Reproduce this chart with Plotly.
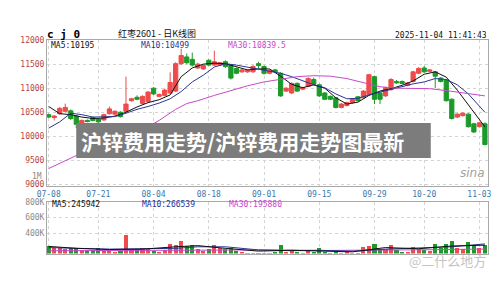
import plotly.graph_objects as go

W, H = 500, 281
def px(x): return x / W
def py(y): return 1 - y / H

# ---------------- data ----------------
day_idx = list(range(80))
tick_idx = [0, 9, 19, 29, 39, 49, 59, 68, 78]
tick_dates = ["07-08", "07-21", "08-04", "08-18", "09-01", "09-15", "09-29", "10-20", "11-03"]
price_ticks = [9000, 9500, 10000, 10500, 11000, 11500, 12000]
price_tick_text = ["9000", "9500", "10000", "10500", "11000", "11500", "12000"]
vol_ticks = [400000, 600000, 800000]
vol_tick_text = ["400K", "600K", "800K"]

opens = [10450, 10390, 10470, 10520, 10530, 10420, 10260, 10330, 10390, 10360,
         10340, 10470, 10460, 10500, 10520, 10740, 10810, 10680, 10720, 11000,
         10830, 10850, 10900, 10940, 11510, 11650, 11600, 11420, 11400, 11580,
         11480, 11480, 11550, 11480, 11410, 11340, 11340, 11340, 11510, 11450,
         11310, 11380, 11310, 10940, 10900, 11100, 10980, 11040, 11180, 11070,
         10900, 10830, 10800, 10600, 10640, 10700, 10820, 10800, 10870, 11240,
         10900, 10840, 10970, 11140, 11140, 11060, 11140, 11310, 11420, 11350,
         11340, 11210, 11170, 10770, 10400, 10430, 10460, 10260, 10200, 10260]
highs = [10470, 10440, 10610, 10680, 10560, 10440, 10350, 10350, 10410, 10380,
         10470, 10620, 10540, 10520, 11240, 10800, 10850, 10850, 10940, 11020,
         10890, 10990, 11330, 11540, 11820, 11720, 11740, 11530, 11490, 11600,
         11780, 11540, 11580, 11500, 11430, 11400, 11390, 11480, 11550, 11470,
         11390, 11400, 11330, 11020, 11120, 11120, 11030, 11230, 11220, 11090,
         10920, 10850, 10820, 10690, 10720, 10790, 10840, 10960, 11300, 11260,
         10920, 11030, 11210, 11170, 11160, 11130, 11360, 11440, 11460, 11400,
         11360, 11230, 11190, 10790, 10480, 10500, 10480, 10280, 10300, 10290]
lows = [10380, 10330, 10450, 10500, 10340, 10170, 10240, 10290, 10310, 10280,
        10320, 10450, 10440, 10390, 10500, 10720, 10750, 10660, 10700, 10860,
        10810, 10830, 10880, 10920, 11480, 11500, 11450, 11400, 11380, 11460,
        11460, 11460, 11420, 11180, 11290, 11320, 11320, 11320, 11410, 11280,
        11290, 11320, 10820, 10920, 10880, 10920, 10960, 11020, 11060, 10820,
        10750, 10750, 10580, 10580, 10620, 10680, 10720, 10780, 10850, 10670,
        10670, 10820, 10950, 11090, 11080, 11040, 11120, 11290, 11320, 11330,
        11000, 11120, 10720, 10350, 10380, 10410, 10180, 10070, 10180, 9810]
closes = [10400, 10420, 10580, 10600, 10370, 10250, 10330, 10310, 10330, 10300,
          10450, 10570, 10520, 10410, 10670, 10780, 10770, 10830, 10920, 10880,
          10870, 10960, 11120, 11510, 11680, 11530, 11480, 11500, 11470, 11480,
          11550, 11530, 11450, 11210, 11310, 11380, 11370, 11450, 11470, 11310,
          11370, 11340, 10840, 11000, 11100, 10940, 11010, 11200, 11080, 10840,
          10770, 10770, 10600, 10670, 10700, 10770, 10740, 10940, 11280, 10770,
          10770, 11010, 11180, 11110, 11100, 11110, 11340, 11410, 11340, 11380,
          11250, 11140, 10740, 10370, 10460, 10480, 10200, 10090, 10280, 9830]
volumes = [234, 204, 204, 193, 204, 204, 179, 171, 179, 212,
           179, 171, 162, 171, 379, 192, 192, 204, 200, 171,
           162, 179, 263, 254, 296, 233, 246, 192, 171, 192,
           254, 204, 192, 204, 171, 162, 150, 150, 150, 150,
           150, 162, 246, 162, 171, 162, 150, 179, 162, 212,
           162, 150, 162, 150, 162, 150, 150, 221, 233, 263,
           192, 192, 254, 179, 162, 162, 221, 200, 179, 171,
           267, 212, 267, 296, 212, 192, 283, 246, 204, 254]
volumes = [v * 1000 for v in volumes]

ma_idx = [0, 2, 4, 6, 8, 10, 12, 14, 16, 18, 20, 22, 24, 26, 28, 30, 32, 34, 36, 38,
          40, 42, 44, 46, 48, 50, 52, 54, 56, 58, 60, 62, 64, 66, 68, 70, 72, 74, 76, 78, 79]
ma5 = [10620, 10470, 10450, 10400, 10370, 10380, 10420, 10500, 10610, 10700,
       10760, 10860, 11240, 11420, 11500, 11520, 11510, 11450, 11380, 11400,
       11400, 11250, 11080, 11010, 11070, 11000, 10800, 10670, 10710, 10850,
       10940, 10990, 11060, 11150, 11290, 11340, 11230, 10960, 10650, 10330, 10195]
ma10 = [10170, 10300, 10480, 10450, 10400, 10400, 10410, 10480, 10560, 10620,
        10690, 10780, 10930, 11130, 11270, 11440, 11510, 11480, 11440, 11400,
        11360, 11310, 11240, 11160, 11070, 11010, 10880, 10780, 10790, 10860,
        10920, 10970, 11030, 11090, 11130, 11200, 11180, 11070, 10880, 10640, 10499]
ma30_idx = [0, 5, 10, 14, 17, 20, 23, 25, 27, 30, 33, 36, 39, 42, 45, 48, 51, 54,
            57, 60, 63, 66, 69, 72, 75, 79]
ma30 = [9330, 9600, 9870, 10040, 10130, 10330, 10560, 10680, 10740, 10850, 10950,
        11050, 11130, 11190, 11240, 11260, 11250, 11200, 11110, 11030, 11000, 10995,
        10990, 10950, 10900, 10840]

vma_idx = [0, 5, 11, 17, 23, 27, 32, 38, 44, 49, 55, 61, 67, 73, 79]
vma5 = [230, 205, 190, 195, 225, 240, 205, 170, 180, 172, 160, 215, 200, 235, 246]
vma10 = [215, 210, 195, 200, 205, 225, 225, 185, 175, 180, 168, 195, 210, 225, 262]
vma30_idx = [0, 10, 20, 30, 40, 50, 60, 70, 79]
vma30 = [175, 178, 185, 190, 185, 178, 180, 188, 196]
vma5 = [v * 1000 for v in vma5]
vma10 = [v * 1000 for v in vma10]
vma30 = [v * 1000 for v in vma30]

# ---------------- style ----------------
RED = "#ef4b4b"
GREEN = "#1b9a2a"
BLACK = "#111111"
BLUE = "#2a3590"
MAG = "#c848c8"
MONO = "DejaVu Sans Mono"
CJK = "Noto Sans CJK SC"

fig = go.Figure()
fig.add_trace(go.Candlestick(
    x=day_idx, open=opens, high=highs, low=lows, close=closes,
    increasing=dict(line=dict(color=RED, width=1), fillcolor=RED),
    decreasing=dict(line=dict(color=GREEN, width=1), fillcolor=GREEN),
    whiskerwidth=0, xaxis="x", yaxis="y", hoverinfo="skip"))
fig.add_trace(go.Scatter(x=ma_idx, y=ma5, mode="lines", line=dict(color=BLACK, width=1),
                         xaxis="x", yaxis="y"))
fig.add_trace(go.Scatter(x=ma_idx, y=ma10, mode="lines", line=dict(color=BLUE, width=1),
                         xaxis="x", yaxis="y"))
fig.add_trace(go.Scatter(x=ma30_idx, y=ma30, mode="lines", line=dict(color=MAG, width=1),
                         xaxis="x", yaxis="y"))

vol_colors = [RED if c >= o else GREEN for o, c in zip(opens, closes)]
fig.add_trace(go.Bar(x=day_idx, y=volumes, marker=dict(color=vol_colors, line=dict(width=0)),
                     width=0.75, xaxis="x2", yaxis="y2"))
fig.add_trace(go.Scatter(x=vma30_idx, y=vma30, mode="lines", line=dict(color=MAG, width=1),
                         xaxis="x2", yaxis="y2"))
fig.add_trace(go.Scatter(x=vma_idx, y=vma10, mode="lines", line=dict(color=BLUE, width=1),
                         xaxis="x2", yaxis="y2"))
fig.add_trace(go.Scatter(x=vma_idx, y=vma5, mode="lines", line=dict(color=BLACK, width=1),
                         xaxis="x2", yaxis="y2"))

xr = [-0.3, 79.6]
grid = dict(showgrid=True, gridcolor="#d4d4d4", griddash="dot", gridwidth=1)
frame = dict(showline=True, mirror=True, linecolor="#a8a8a8", linewidth=1, zeroline=False)

fig.update_layout(
    width=W, height=H, margin=dict(l=0, r=0, t=0, b=0),
    paper_bgcolor="white", plot_bgcolor="white", showlegend=False,
    bargap=0, boxgap=0.1, boxgroupgap=0.15,
    xaxis=dict(domain=[px(38), px(491)], range=xr, anchor="y",
               tickvals=tick_idx, ticktext=tick_dates, ticks="",
               tickfont=dict(family=MONO, size=8, color="#3a78b0"),
               rangeslider=dict(visible=False), **grid, **frame),
    yaxis=dict(domain=[py(187), py(37)], range=[8960, 12000], anchor="x",
               tickvals=price_ticks, ticktext=price_tick_text,
               ticks="", tickfont=dict(family=MONO, size=8, color="#b84444"),
               **grid, **frame),
    xaxis2=dict(domain=[px(38), px(491)], range=xr, anchor="y2",
                tickvals=tick_idx, showticklabels=False, ticks="", **grid, **frame),
    yaxis2=dict(domain=[py(256), py(203)], range=[137500, 800000], anchor="x2",
                tickvals=vol_ticks, ticktext=vol_tick_text,
                ticks="", tickfont=dict(family=MONO, size=8, color="#8a8a8a"),
                **grid, **frame),
)

def ann(text, x, y, color="#000", size=8, family=MONO, xanchor="left", bold=False, italic=False):
    fig.add_annotation(text=text, x=px(x), y=py(y), xref="paper", yref="paper",
                       xanchor=xanchor, yanchor="middle", showarrow=False,
                       font=dict(family=family, size=size, color=color,
                                 weight="bold" if bold else "normal",
                                 style="italic" if italic else "normal"))

ann("c j 0", 36, 31, color="#000", size=11, bold=True)
ann("红枣2601 - 日K线图", 151, 30, color="#111", size=9, family=CJK, xanchor="center")
ann("2025-11-04 11:41:43", 492, 32, color="#111", size=8, xanchor="right")
ann("MA5:10195", 40, 43, color=BLACK)
ann("MA10:10499", 132, 43, color=BLUE)
ann("MA30:10839.5", 222, 43, color=MAG)
ann("1M", 35, 177, color="#8a8a8a", xanchor="right")
ann("MA5:245942", 41, 206, color=BLACK)
ann("MA10:266539", 133, 206, color=BLUE)
ann("MA30:195880", 223, 206, color=MAG)
ann("sina", 490, 173, color="#a0a0a0", size=12, family="DejaVu Sans", xanchor="right", italic=True)
ann("@二什么地方", 491, 263, color="#c4c4c4", size=13, family=CJK, xanchor="right")

# title overlay box
fig.add_shape(type="rect", xref="paper", yref="paper",
              x0=px(68), x1=px(432), y0=py(158), y1=py(122),
              fillcolor="#7c7c7c", line=dict(width=0), layer="above")
fig.add_annotation(text="沪锌费用走势/沪锌费用走势图最新", x=px(239), y=py(140),
                   xref="paper", yref="paper", showarrow=False,
                   xanchor="center", yanchor="middle",
                   font=dict(family=CJK, size=21, color="white", weight="bold"))

fig.write_html("out.html")
